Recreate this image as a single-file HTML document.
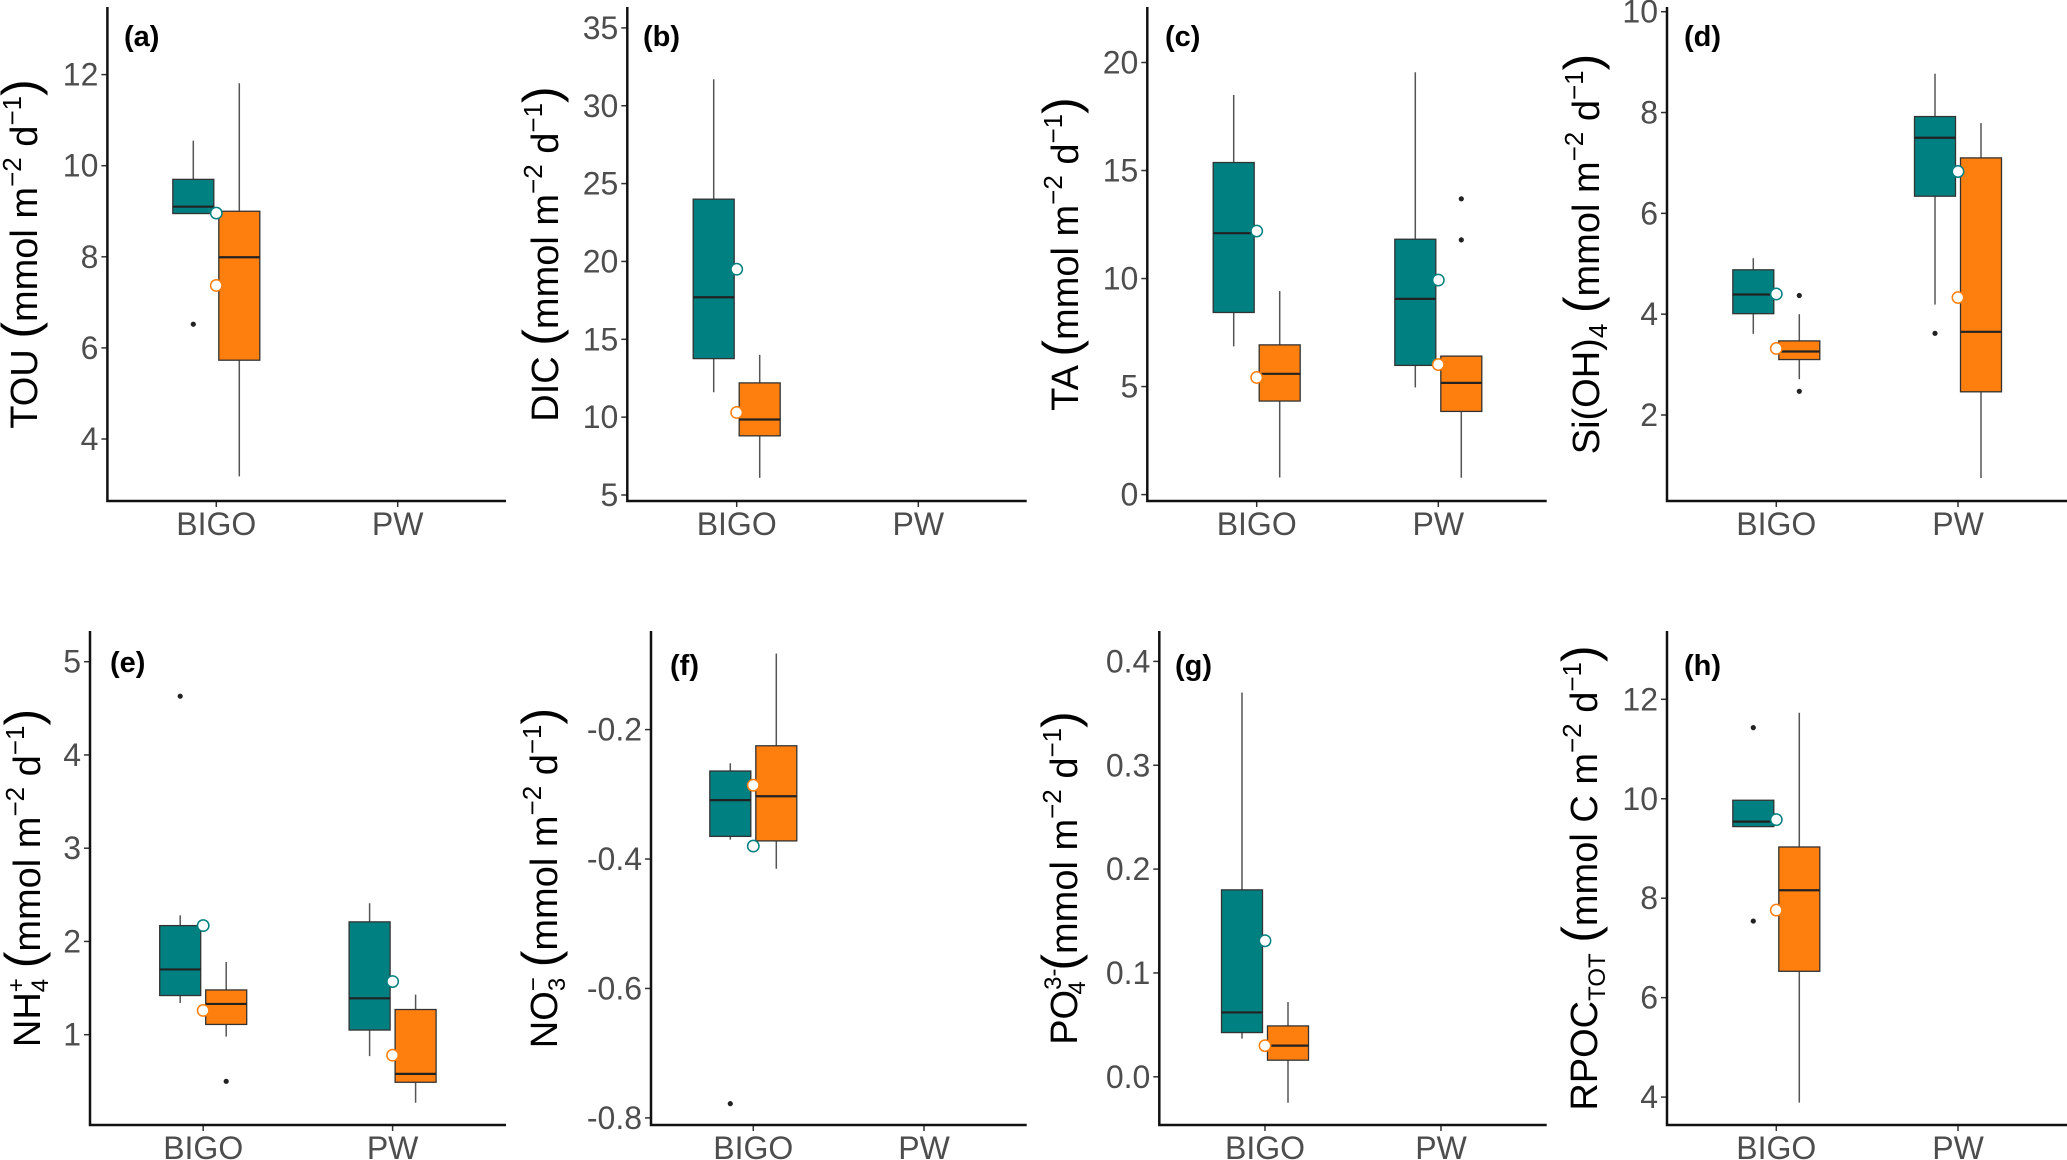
<!DOCTYPE html>
<html><head><meta charset="utf-8">
<style>
html,body{margin:0;padding:0;background:#fff;}
svg{display:block;font-family:"Liberation Sans",Arial,sans-serif;}
</style></head>
<body>
<svg id="fig" width="2067" height="1160" viewBox="0 0 2067 1160" xmlns="http://www.w3.org/2000/svg"></svg>
<script>
// ---- data: categories ----
const categories = ["BIGO", "PW"];
// stats per category: [low whisker, Q1, median, Q3, high whisker]; null = no box
// (a) TOU
const touTeal = [[8.95, 8.95, 9.10, 9.70, 10.55], null];
const touOrange = [[3.18, 5.73, 7.99, 9.00, 11.81], null];
const touTealMean = [8.96, null];
const touOrangeMean = [7.37, null];
const touOutliers = [[0, 0, 6.52]];
// (b) DIC
const dicTeal = [[11.6, 13.76, 17.7, 24.0, 31.7], null];
const dicOrange = [[6.1, 8.8, 9.85, 12.2, 14.0], null];
const dicTealMean = [19.5, null];
const dicOrangeMean = [10.3, null];
const dicOutliers = [];
// (c) TA
const taTeal = [[6.86, 8.43, 12.1, 15.37, 18.5], [4.96, 5.98, 9.06, 11.82, 19.55]];
const taOrange = [[0.79, 4.33, 5.59, 6.93, 9.42], [0.78, 3.85, 5.17, 6.41, 6.41]];
const taTealMean = [12.2, 9.93];
const taOrangeMean = [5.42, 6.02];
const taOutliers = [[1, 1, 13.69], [1, 1, 11.79]];
// (d) Si(OH)4
const siTeal = [[3.61, 4.01, 4.39, 4.88, 5.11], [4.19, 6.34, 7.50, 7.92, 8.77]];
const siOrange = [[2.71, 3.10, 3.26, 3.47, 4.0], [0.75, 2.46, 3.65, 7.10, 7.79]];
const siTealMean = [4.40, 6.83];
const siOrangeMean = [3.32, 4.33];
const siOutliers = [[0, 1, 4.37], [0, 1, 2.47], [1, 0, 3.62]];
// (e) NH4+
const nhTeal = [[1.34, 1.42, 1.70, 2.17, 2.28], [0.77, 1.05, 1.39, 2.21, 2.41]];
const nhOrange = [[0.98, 1.11, 1.33, 1.48, 1.78], [0.27, 0.49, 0.58, 1.27, 1.43]];
const nhTealMean = [2.17, 1.57];
const nhOrangeMean = [1.26, 0.78];
const nhOutliers = [[0, 0, 4.63], [0, 1, 0.50]];
// (f) NO3-
const noTeal = [[-0.370, -0.365, -0.309, -0.264, -0.252], null];
const noOrange = [[-0.415, -0.372, -0.303, -0.225, -0.0825], null];
const noTealMean = [-0.380, null];
const noOrangeMean = [-0.286, null];
const noOutliers = [[0, 0, -0.778]];
// (g) PO4 3-
const poTeal = [[0.0368, 0.0426, 0.062, 0.180, 0.370], null];
const poOrange = [[-0.025, 0.016, 0.030, 0.049, 0.072], null];
const poTealMean = [0.131, null];
const poOrangeMean = [0.030, null];
const poOutliers = [];
// (h) RPOC
const rpTeal = [[9.44, 9.44, 9.54, 9.97, 9.97], null];
const rpOrange = [[3.89, 6.53, 8.16, 9.03, 11.73], null];
const rpTealMean = [9.58, null];
const rpOrangeMean = [7.76, null];
const rpOutliers = [[0, 0, 11.43], [0, 0, 7.54]];
// tick labels
const touTicks = [4, 6, 8, 10, 12];
const dicTicks = [5, 10, 15, 20, 25, 30, 35];
const taTicks = [0, 5, 10, 15, 20];
const siTicks = [2, 4, 6, 8, 10];
const nhTicks = [1, 2, 3, 4, 5];
const noTicks = [-0.8, -0.6, -0.4, -0.2];
const noTickLabels = ["-0.8", "-0.6", "-0.4", "-0.2"];
const poTicks = [0.0, 0.1, 0.2, 0.3, 0.4];
const poTickLabels = ["0.0", "0.1", "0.2", "0.3", "0.4"];
const rpTicks = [4, 6, 8, 10, 12];

const NS = "http://www.w3.org/2000/svg";
const svg = document.getElementById("fig");
const TEAL = "#008080", ORANGE = "#FF7F0E";

function mk(tag, attrs, parent) {
  const e = document.createElementNS(NS, tag);
  for (const k in attrs) e.setAttribute(k, attrs[k]);
  (parent || svg).appendChild(e);
  return e;
}

const panels = [
  {id:"a", name:"tou", ax:107.4, ay:501, top:7, right:506, cx:[216.3,397.7], v0:12, p0:74.6, v1:4, p1:439, ticks:touTicks, teal:touTeal, orange:touOrange, tm:touTealMean, om:touOrangeMean, out:touOutliers, tx:37, lx:124, ly:46, title:[["TOU "],["(","paren"],["mmol m"],["−2","sup"],[" d"],["−1","sup"],[")","paren"]]},
  {id:"b", name:"dic", ax:627.3, ay:501, top:7, right:1026.7, cx:[736.7,918.3], v0:35, p0:27.9, v1:5, p1:495, ticks:dicTicks, teal:dicTeal, orange:dicOrange, tm:dicTealMean, om:dicOrangeMean, out:dicOutliers, tx:558, lx:643, ly:46, title:[["DIC "],["(","paren"],["mmol m"],["−2","sup"],[" d"],["−1","sup"],[")","paren"]]},
  {id:"c", name:"ta", ax:1147.3, ay:501, top:7, right:1546.7, cx:[1256.7,1438.3], v0:20, p0:62.5, v1:0, p1:494.6, ticks:taTicks, teal:taTeal, orange:taOrange, tm:taTealMean, om:taOrangeMean, out:taOutliers, tx:1078, lx:1165, ly:46, title:[["TA "],["(","paren"],["mmol m"],["−2","sup"],[" d"],["−1","sup"],[")","paren"]]},
  {id:"d", name:"sioh4", ax:1667, ay:501, top:7, right:2067, cx:[1776.3,1958], v0:10, p0:11.7, v1:2, p1:415, ticks:siTicks, teal:siTeal, orange:siOrange, tm:siTealMean, om:siOrangeMean, out:siOutliers, tx:1599, lx:1684, ly:46, title:[["Si(OH)"],["4","sub"],[" "],["(","paren"],["mmol m"],["−2","sup"],[" d"],["−1","sup"],[")","paren"]]},
  {id:"e", name:"nh4", ax:90, ay:1125, top:631, right:506, cx:[203.2,392.6], v0:5, p0:661.7, v1:1, p1:1034.7, ticks:nhTicks, teal:nhTeal, orange:nhOrange, tm:nhTealMean, om:nhOrangeMean, out:nhOutliers, tx:40, lx:110, ly:672, title:[["NH"],["+","supsub"],["4","subafter"],[" "],["(","paren"],["mmol m"],["−2","sup"],[" d"],["−1","sup"],[")","paren"]]},
  {id:"f", name:"no3", ax:651, ay:1125, top:631, right:1026.7, cx:[753.3,924], v0:-0.2, p0:729.6, v1:-0.8, p1:1117.9, ticks:noTicks, tlabels:noTickLabels, teal:noTeal, orange:noOrange, tm:noTealMean, om:noOrangeMean, out:noOutliers, tx:557, lx:670, ly:675, title:[["NO"],["−","supsub"],["3","subafter"],[" "],["(","paren"],["mmol m"],["−2","sup"],[" d"],["−1","sup"],[")","paren"]]},
  {id:"g", name:"po4", ax:1159.3, ay:1125, top:631, right:1546.7, cx:[1265,1441], v0:0.4, p0:661.4, v1:0, p1:1076.8, ticks:poTicks, tlabels:poTickLabels, teal:poTeal, orange:poOrange, tm:poTealMean, om:poOrangeMean, out:poOutliers, tx:1077, lx:1175, ly:675, title:[["PO"],["3-","supsub"],["4","subafter"],["  "],["(","paren"],["mmol m"],["−2","sup"],[" d"],["−1","sup"],[")","paren"]]},
  {id:"h", name:"rpoc", ax:1667, ay:1125, top:631, right:2067, cx:[1776.3,1958], v0:12, p0:699.3, v1:4, p1:1097.1, ticks:rpTicks, teal:rpTeal, orange:rpOrange, tm:rpTealMean, om:rpOrangeMean, out:rpOutliers, tx:1597, lx:1684, ly:675, title:[["RPOC"],["TOT","subtot"],[" "],["(","paren"],["mmol C m"],["−2","sup"],[" d"],["−1","sup"],[")","paren"]]}
];

const BW = 41, OFF = 23;

panels.forEach(p => {
  const g = mk("g", {});
  
  
  const y = v => p.p0 + (v - p.v0) * (p.p1 - p.p0) / (p.v1 - p.v0);

  p.ticks.forEach((t, i) => {
    const ty = y(t);
    const tk = mk("line", {x1:p.ax-6, x2:p.ax, y1:ty, y2:ty, stroke:"#333", "stroke-width":1.5}, g);
    
    
    const lb = mk("text", {x:p.ax-9, y:ty+11, "text-anchor":"end", "font-size":32, fill:"#4d4d4d"}, g);
    lb.textContent = p.tlabels ? p.tlabels[i] : String(t);
    
    
  });
  categories.forEach((c, i) => {
    const xt = mk("line", {x1:p.cx[i], x2:p.cx[i], y1:p.ay, y2:p.ay+6, stroke:"#333", "stroke-width":1.5}, g);
    
    
    const xl = mk("text", {x:p.cx[i], y:p.ay+34, "text-anchor":"middle", "font-size":32, fill:"#4d4d4d"}, g);
    xl.textContent = c;
    
    
  });

  [[p.teal, TEAL, -OFF, "teal"], [p.orange, ORANGE, OFF, "orange"]].forEach(([stats, col, off, nm]) => {
    stats.forEach((s, i) => {
      if (!s) return;
      const bx = p.cx[i] + off;
      const bg = mk("g", {}, g);
      
      
      mk("line", {x1:bx, x2:bx, y1:y(s[4]), y2:y(s[3]), stroke:"#555", "stroke-width":1.5}, bg);
      mk("line", {x1:bx, x2:bx, y1:y(s[1]), y2:y(s[0]), stroke:"#555", "stroke-width":1.5}, bg);
      mk("rect", {x:bx-BW/2, y:y(s[3]), width:BW, height:Math.max(0.5, y(s[1])-y(s[3])), fill:col, stroke:"#333", "stroke-width":1.3}, bg);
      mk("line", {x1:bx-BW/2, x2:bx+BW/2, y1:y(s[2]), y2:y(s[2]), stroke:"#222", "stroke-width":2.2}, bg);
    });
  });
  p.out.forEach(o => {
    const c = mk("circle", {cx:p.cx[o[0]] + (o[1] ? OFF : -OFF), cy:y(o[2]), r:2.6, fill:"#222"}, g);
    
    
  });
  [[p.tm, TEAL, "teal"], [p.om, ORANGE, "orange"]].forEach(([m, col, nm]) => {
    m.forEach((v, i) => {
      if (v === null) return;
      const c = mk("circle", {cx:p.cx[i], cy:y(v), r:5.7, fill:"#fff", stroke:col, "stroke-width":1.5}, g);
      
      
    });
  });

  const axl = mk("path", {d:`M${p.ax},${p.top} L${p.ax},${p.ay} L${p.right},${p.ay}`, fill:"none", stroke:"#111", "stroke-width":2.5}, g);
  
  

  const pl = mk("text", {x:p.lx, y:p.ly, "font-size":29, "font-weight":"bold", fill:"#000"}, g);
  pl.textContent = "(" + p.id + ")";
  
  

  const cy = (p.top + p.ay) / 2;
  const tt = mk("text", {transform:`translate(${p.tx},${cy}) rotate(-90)`, "text-anchor":"middle", "font-size":38, fill:"#000"}, g);
  
  
  let shift = 0;
  p.title.forEach(([txt, kind]) => {
    const ts = mk("tspan", {}, tt);
    ts.textContent = txt;
    let dy = 0, fs = 38;
    if (kind === "sup") { fs = 26; dy = -16; }
    else if (kind === "sub") { fs = 26; dy = 8; }
    else if (kind === "subtot") { fs = 24; dy = 8; }
    else if (kind === "supsub") { fs = 24; dy = -16; }
    else if (kind === "paren") { fs = 50; dy = 0; }
    ts.setAttribute("font-size", fs);
    if (kind === "subafter") {
      ts.setAttribute("font-size", 24);
      ts.setAttribute("dx", -(p.id === "g" ? 26 : 14));
      ts.setAttribute("dy", 24);
      shift += 24;
      return;
    }
    const d = dy - shift;
    if (d !== 0) ts.setAttribute("dy", d);
    shift = dy;
  });
});
</script>
</body></html>
